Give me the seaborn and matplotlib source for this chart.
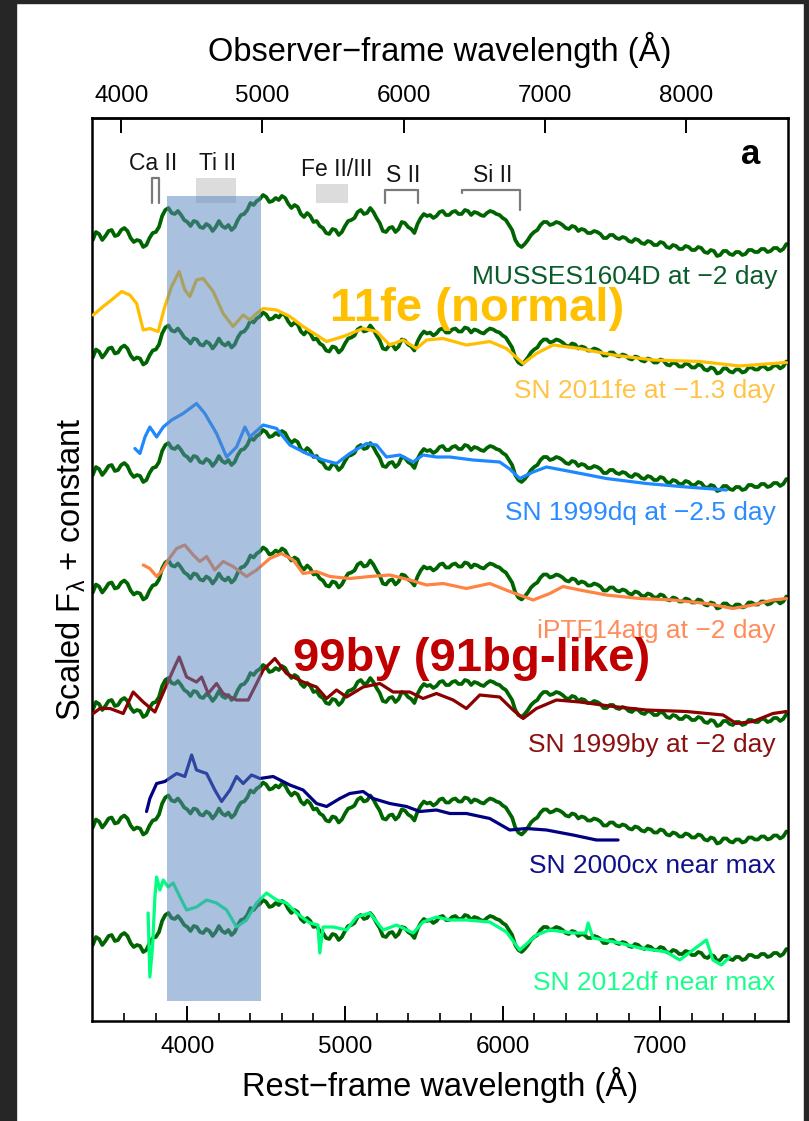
import numpy as np
import pandas as pd
import matplotlib
matplotlib.use("Agg")
import matplotlib.pyplot as plt
import seaborn as sns
from matplotlib.patches import Rectangle

# ---------------- data ----------------
Z_MUSSES = 0.117

MUSSES_WL = [3400, 3420, 3440, 3460, 3480, 3500, 3520, 3540, 3560, 3580,
             3600, 3620, 3640, 3660, 3680, 3700, 3720, 3740, 3760, 3780,
             3800, 3820, 3840, 3860, 3880, 3900, 3920, 3940, 3960, 3980,
             4000, 4020, 4040, 4060, 4080, 4100, 4120, 4140, 4160, 4180,
             4200, 4220, 4240, 4260, 4280, 4300, 4320, 4340, 4360, 4380,
             4400, 4420, 4440, 4460, 4480, 4500, 4520, 4540, 4560, 4580,
             4600, 4620, 4640, 4660, 4680, 4700, 4720, 4740, 4760, 4780,
             4800, 4820, 4840, 4860, 4880, 4900, 4920, 4940, 4960, 4980,
             5000, 5020, 5040, 5060, 5080, 5100, 5120, 5140, 5160, 5180,
             5200, 5220, 5240, 5260, 5280, 5300, 5320, 5340, 5360, 5380,
             5400, 5420, 5440, 5460, 5480, 5500, 5520, 5540, 5560, 5580,
             5600, 5620, 5640, 5660, 5680, 5700, 5720, 5740, 5760, 5780,
             5800, 5820, 5840, 5860, 5880, 5900, 5920, 5940, 5960, 5980,
             6000, 6020, 6040, 6060, 6080, 6100, 6120, 6140, 6160, 6180,
             6200, 6220, 6240, 6260, 6280, 6300, 6320, 6340, 6360, 6380,
             6400, 6420, 6440, 6460, 6480, 6500, 6520, 6540, 6560, 6580,
             6600, 6620, 6640, 6660, 6680, 6700, 6720, 6740, 6760, 6780,
             6800, 6820, 6840, 6860, 6880, 6900, 6920, 6940, 6960, 6980,
             7000, 7020, 7040, 7060, 7080, 7100, 7120, 7140, 7160, 7180,
             7200, 7220, 7240, 7260, 7280, 7300, 7320, 7340, 7360, 7380,
             7400, 7420, 7440, 7460, 7480, 7500, 7520, 7540, 7560, 7580,
             7600, 7620, 7640, 7660, 7680, 7700, 7720, 7740, 7760, 7780,
             7800]
MUSSES_F = [0.60, 0.68, 0.66, 0.60, 0.64, 0.69, 0.70, 0.64, 0.65, 0.70,
            0.72, 0.69, 0.62, 0.58, 0.60, 0.59, 0.53, 0.55, 0.62, 0.67,
            0.68, 0.73, 0.84, 0.90, 0.92, 0.87, 0.86, 0.89, 0.85, 0.80,
            0.78, 0.74, 0.79, 0.78, 0.73, 0.72, 0.76, 0.74, 0.69, 0.73,
            0.79, 0.74, 0.72, 0.75, 0.70, 0.73, 0.80, 0.85, 0.86, 0.90,
            0.97, 0.95, 0.99, 1.01, 1.05, 1.03, 0.98, 0.99, 1.02, 1.00,
            1.04, 1.02, 0.96, 0.92, 0.95, 0.93, 0.86, 0.83, 0.87, 0.84,
            0.78, 0.79, 0.74, 0.72, 0.67, 0.66, 0.71, 0.70, 0.65, 0.68,
            0.74, 0.79, 0.80, 0.82, 0.88, 0.90, 0.86, 0.87, 0.92, 0.88,
            0.82, 0.77, 0.69, 0.68, 0.72, 0.73, 0.68, 0.71, 0.78, 0.77,
            0.73, 0.71, 0.67, 0.76, 0.82, 0.86, 0.84, 0.85, 0.82, 0.84,
            0.88, 0.89, 0.85, 0.85, 0.88, 0.89, 0.86, 0.86, 0.90, 0.89,
            0.85, 0.88, 0.87, 0.85, 0.84, 0.87, 0.89, 0.88, 0.86, 0.85,
            0.82, 0.80, 0.75, 0.70, 0.60, 0.55, 0.53, 0.56, 0.60, 0.65,
            0.68, 0.70, 0.75, 0.78, 0.78, 0.75, 0.76, 0.78, 0.77, 0.75,
            0.72, 0.71, 0.74, 0.73, 0.69, 0.71, 0.70, 0.67, 0.67, 0.69,
            0.68, 0.66, 0.62, 0.62, 0.65, 0.65, 0.62, 0.61, 0.63, 0.62,
            0.59, 0.58, 0.61, 0.60, 0.57, 0.56, 0.59, 0.58, 0.55, 0.55,
            0.58, 0.57, 0.53, 0.52, 0.55, 0.54, 0.51, 0.51, 0.54, 0.53,
            0.50, 0.50, 0.53, 0.52, 0.48, 0.47, 0.50, 0.49, 0.44, 0.45,
            0.49, 0.49, 0.46, 0.45, 0.48, 0.48, 0.45, 0.46, 0.50, 0.50,
            0.48, 0.48, 0.51, 0.51, 0.48, 0.49, 0.52, 0.52, 0.49, 0.51,
            0.56]

SN11FE_WL = [3403, 3466, 3530, 3583, 3635, 3678, 3720, 3762, 3815, 3857,
             3900, 3948, 3984, 4016, 4058, 4100, 4164, 4227, 4290, 4354,
             4396, 4439, 4481, 4566, 4650, 4734, 4819, 4883, 4988, 5115,
             5200, 5284, 5368, 5453, 5517, 5622, 5770, 5918, 6024, 6130,
             6214, 6320, 6489, 6700, 6954, 7250, 7503, 7800]
SN11FE_F = [1.025, 1.11, 1.19, 1.26, 1.225, 1.14, 0.875, 0.89, 0.86, 1.11,
            1.31, 1.46, 1.275, 1.21, 1.375, 1.39, 1.26, 1.04, 0.91, 1.025,
            0.975, 1.04, 1.09, 1.075, 1.01, 0.91, 0.825, 0.76, 0.81, 0.89,
            0.86, 0.725, 0.775, 0.69, 0.775, 0.79, 0.725, 0.76, 0.69, 0.54,
            0.64, 0.725, 0.69, 0.625, 0.575, 0.56, 0.515, 0.55]

SN99DQ_WL = [3667, 3699, 3731, 3762, 3805, 3847, 3900, 3973, 4058, 4111,
             4185, 4249, 4312, 4365, 4396, 4481, 4566, 4650, 4756, 4861,
             4946, 5030, 5136, 5200, 5263, 5348, 5432, 5495, 5580, 5665,
             5812, 5981, 6045, 6108, 6193, 6278, 6446, 6658, 6911, 7165,
             7420]
SN99DQ_F = [0.865, 0.815, 0.98, 1.08, 0.98, 1.08, 1.15, 1.215, 1.315, 1.215,
            1.015, 0.78, 0.88, 1.08, 0.98, 1.10, 1.065, 0.90, 0.815, 0.75,
            0.715, 0.815, 0.915, 0.90, 0.78, 0.80, 0.73, 0.80, 0.78, 0.78,
            0.75, 0.73, 0.66, 0.565, 0.63, 0.68, 0.63, 0.565, 0.515, 0.48,
            0.45]

PTF14ATG_WL = [3720, 3762, 3805, 3836, 3878, 3932, 3984, 4037, 4079, 4122,
               4174, 4227, 4290, 4375, 4439, 4523, 4597, 4671, 4734, 4819,
               4904, 5030, 5157, 5284, 5411, 5517, 5622, 5770, 5918, 6045,
               6193, 6299, 6383, 6489, 6658, 6869, 7080, 7292, 7461, 7588,
               7714, 7800]
PTF14ATG_F = [0.875, 0.84, 0.76, 0.81, 0.925, 1.04, 1.075, 0.975, 0.91, 0.96,
              0.825, 0.91, 0.86, 0.76, 0.825, 0.94, 0.99, 0.925, 0.79, 0.81,
              0.76, 0.74, 0.76, 0.775, 0.725, 0.675, 0.69, 0.64, 0.69, 0.61,
              0.525, 0.59, 0.66, 0.625, 0.575, 0.54, 0.525, 0.49, 0.44, 0.475,
              0.525, 0.54]

SN99BY_WL = [3403, 3445, 3509, 3593, 3656, 3720, 3794, 3868, 3910, 3948,
             3995, 4058, 4090, 4132, 4185, 4227, 4312, 4386, 4439, 4481,
             4555, 4629, 4734, 4819, 4883, 4946, 5010, 5115, 5221, 5305,
             5411, 5495, 5580, 5686, 5770, 5855, 5981, 6066, 6130, 6214,
             6341, 6489, 6700, 6911, 7165, 7398, 7482, 7588, 7714, 7800]
SN99BY_F = [0.565, 0.615, 0.615, 0.565, 0.78, 0.68, 0.58, 0.85, 1.00, 1.13,
            0.93, 0.88, 0.93, 0.765, 0.865, 0.765, 0.70, 0.70, 0.865, 1.00,
            1.115, 0.965, 0.88, 0.83, 0.715, 0.80, 0.73, 0.83, 0.865, 0.78,
            0.78, 0.715, 0.765, 0.70, 0.615, 0.75, 0.73, 0.60, 0.515, 0.615,
            0.70, 0.68, 0.635, 0.60, 0.585, 0.55, 0.465, 0.485, 0.565, 0.585]

SN00CX_WL = [3741, 3762, 3805, 3857, 3932, 3984, 4027, 4058, 4122, 4174,
             4217, 4270, 4312, 4354, 4407, 4460, 4544, 4650, 4734, 4819,
             4883, 4967, 5030, 5115, 5178, 5284, 5390, 5474, 5580, 5665,
             5770, 5918, 6045, 6151, 6278, 6446, 6595, 6732]
SN00CX_F = [0.76, 0.89, 1.04, 1.06, 1.14, 1.11, 1.325, 1.175, 1.14, 0.975,
            0.86, 0.975, 1.11, 1.04, 1.125, 1.09, 1.11, 1.025, 0.975, 0.84,
            0.81, 0.89, 0.94, 0.96, 0.89, 0.84, 0.81, 0.76, 0.775, 0.74,
            0.74, 0.69, 0.575, 0.59, 0.575, 0.525, 0.475, 0.475]

SN12DF_WL = [3751, 3762, 3779, 3794, 3805, 3826, 3847, 3878, 3910, 3953,
             3995, 4058, 4122, 4185, 4249, 4312, 4375, 4439, 4502, 4566,
             4629, 4692, 4777, 4828, 4840, 4861, 4925, 5010, 5073, 5157,
             5242, 5327, 5432, 5495, 5580, 5665, 5770, 5918, 6024, 6108,
             6214, 6299, 6446, 6527, 6542, 6573, 6742, 6869, 7039, 7123,
             7207, 7292, 7334, 7388, 7440]
SN12DF_F = [0.92, 0.28, 0.58, 1.08, 1.28, 1.15, 1.25, 1.18, 1.22, 1.08,
            0.95, 0.98, 1.05, 1.02, 0.95, 0.78, 0.85, 1.02, 1.12, 1.05,
            1.02, 0.92, 0.82, 0.80, 0.52, 0.78, 0.78, 0.75, 0.88, 0.92,
            0.75, 0.80, 0.72, 0.83, 0.88, 0.85, 0.85, 0.83, 0.73, 0.55,
            0.70, 0.75, 0.72, 0.72, 0.82, 0.67, 0.62, 0.57, 0.53, 0.45,
            0.55, 0.65, 0.45, 0.40, 0.48]

OFFSETS = [7.21, 6.035, 4.86, 3.685, 2.51, 1.335, 0.16]

COMPARISONS = [
    ("SN 2011fe at \u22121.3 day", SN11FE_WL, SN11FE_F, "#ffbf00", "#ffc447"),
    ("SN 1999dq at \u22122.5 day", SN99DQ_WL, SN99DQ_F, "#1e88ff", "#2a8cff"),
    ("iPTF14atg at \u22122 day", PTF14ATG_WL, PTF14ATG_F, "#ff8444", "#ff8c5a"),
    ("SN 1999by at \u22122 day", SN99BY_WL, SN99BY_F, "#8b0000", "#8b1010"),
    ("SN 2000cx near max", SN00CX_WL, SN00CX_F, "#000080", "#10108a"),
    ("SN 2012df near max", SN12DF_WL, SN12DF_F, "#00ff7f", "#1aff8c"),
]
LABEL_Y = [6.23, 5.01, 3.83, 2.69, 1.48, 0.31]

# ---------------- style ----------------
sns.set_theme(style="ticks")
plt.rcParams["font.family"] = ["Liberation Sans", "DejaVu Sans"]
plt.rcParams["mathtext.fontset"] = "custom"
plt.rcParams["mathtext.rm"] = "Liberation Sans"
plt.rcParams["mathtext.it"] = "Liberation Sans:italic"
plt.rcParams["axes.linewidth"] = 1.8
plt.rcParams["text.color"] = "black"
plt.rcParams["axes.labelcolor"] = "black"
plt.rcParams["xtick.color"] = "black"
plt.rcParams["xtick.labelcolor"] = "black"

fig = plt.figure(figsize=(8.09, 11.21), dpi=100)
fig.patch.set_facecolor("white")
ax = fig.add_axes([92 / 809, 100 / 1121, 696 / 809, 903 / 1121])

# screenshot-like dark border
for rx, ry, rw, rh in [(0, 0, 16 / 809, 1), (0, 1 - 3 / 1121, 1, 3 / 1121),
                       (1 - 5 / 809, 0, 5 / 809, 1)]:
    fig.patches.append(Rectangle((rx, ry), rw, rh, transform=fig.transFigure,
                                 color="#262626", zorder=-5))

# MUSSES copies
mus = pd.DataFrame({"wl": MUSSES_WL, "f": MUSSES_F})
for off in OFFSETS:
    sns.lineplot(x=mus["wl"], y=mus["f"] + off, ax=ax, color="#006400",
                 lw=2.7, estimator=None, sort=False, zorder=2)

# comparison spectra
for k, (name, wl, fl, c, tc) in enumerate(COMPARISONS):
    off = OFFSETS[k + 1]
    d = pd.DataFrame({"wl": wl, "f": fl})
    sns.lineplot(x=d["wl"], y=d["f"] + off, ax=ax, color=c, lw=2.3,
                 estimator=None, sort=False, zorder=3)
    ax.text(7730, LABEL_Y[k], name, color=tc, fontsize=19, ha="right",
            va="baseline", zorder=6)

ax.text(7744, 7.37, "MUSSES1604D at \u22122 day", color="#0a5c2a", fontsize=19,
        ha="right", va="baseline", zorder=6)

# highlight band
ax.add_patch(Rectangle((3870, 0.20), 600, 8.05, facecolor="#5b87c0",
                       edgecolor="none", alpha=0.52, zorder=5))

# line identifications
ax.add_patch(Rectangle((4054, 8.183), 254, 0.244, facecolor="#dcdcdc",
                       edgecolor="none", zorder=1))
ax.add_patch(Rectangle((4819, 8.183), 203, 0.187, facecolor="#dcdcdc",
                       edgecolor="none", zorder=1))
gray = "#7a7a7a"
ax.plot([3773, 3773, 3821, 3821], [8.183, 8.43, 8.43, 8.183], color=gray, lw=1.6, zorder=4)
ax.plot([5254, 5254, 5464, 5464], [8.183, 8.31, 8.31, 8.183], color=gray, lw=1.6, zorder=4)
ax.plot([5739, 5739, 6113, 6113], [8.277, 8.31, 8.31, 8.11], color=gray, lw=1.6, zorder=4)
for s, x, y in [("Ca II", 3781, 8.51), ("Ti II", 4190, 8.51),
                ("Fe II/III", 4946, 8.453), ("S II", 5372, 8.39),
                ("Si II", 5934, 8.39)]:
    ax.text(x, y, s, fontsize=16.5, ha="center", va="baseline", color="#151515",
            zorder=6)

# big annotations
ax.text(4904, 7.00, "11fe (normal)", color="#ffc000", fontsize=34,
        fontweight="bold", ha="left", va="baseline", zorder=7)
ax.text(4669, 3.50, "99by (91bg-like)", color="#c00000", fontsize=34,
        fontweight="bold", ha="left", va="baseline", zorder=7)
ax.text(7570, 8.57, "a", fontsize=25, fontweight="bold", ha="center",
        va="baseline", color="black", zorder=7)

# axes
ax.set_xlim(3395, 7810)
ax.set_ylim(0, 9.03)
ax.set_yticks([])
ax.set_xticks([4000, 5000, 6000, 7000])
ax.set_xticks(np.array([3600, 3800, 4200, 4400, 4600, 4800, 5200, 5400, 5600,
                        5800, 6200, 6400, 6600, 6800, 7200, 7400, 7600]),
              minor=True)
ax.tick_params(axis="x", which="major", direction="in", length=11, width=1.4,
               labelsize=17.5, pad=11, colors="black")
ax.tick_params(axis="x", which="minor", direction="in", length=5.5, width=1.2)
ax.set_xlabel("Rest\u2212frame wavelength (\u00c5)", fontsize=23.5, labelpad=6)
ax.set_ylabel(r"Scaled F$_{\mathregular{\lambda}}$ + constant", fontsize=23.5,
              labelpad=3)
for sp in ax.spines.values():
    sp.set_color("black")
    sp.set_linewidth(1.8)

sec = ax.secondary_xaxis("top", functions=(lambda x: x * (1 + Z_MUSSES),
                                           lambda x: x / (1 + Z_MUSSES)))
sec.set_xticks([4000, 5000, 6000, 7000, 8000])
sec.tick_params(axis="x", which="major", direction="in", length=11, width=1.4,
                labelsize=17.5, pad=8, colors="black")
sec.tick_params(axis="x", which="minor", length=0)
sec.set_xlabel("Observer\u2212frame wavelength (\u00c5)", fontsize=23.5, labelpad=17)
sec.spines["top"].set_linewidth(1.8)

fig.savefig("out.png", dpi=100)
